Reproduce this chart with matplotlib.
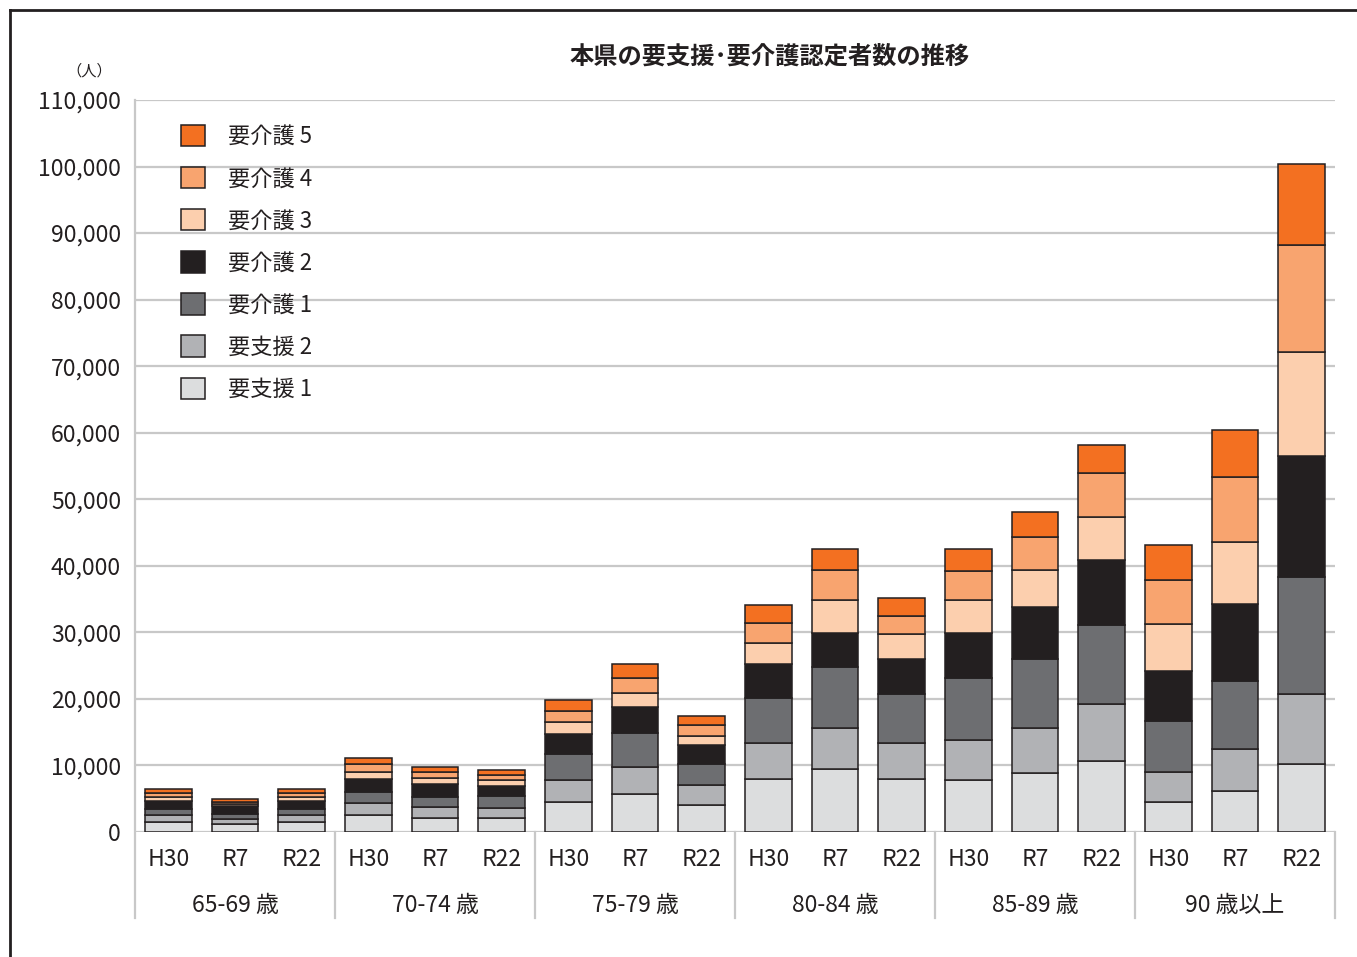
import matplotlib.pyplot as plt
import numpy as np
from matplotlib.lines import Line2D

plt.rcParams['font.family'] = ['Noto Sans CJK JP', 'DejaVu Sans']

groups = ["65-69 歳", "70-74 歳", "75-79 歳", "80-84 歳", "85-89 歳", "90 歳以上"]
years = ["H30", "R7", "R22"]

# values per bar, 18 bars (group x year)
shien1 = [1450, 1150, 1450, 2500, 2150, 2050, 4500, 5750, 4000, 7900, 9400, 7900, 7850, 8900, 10600, 4500, 6150, 10250]
shien2 = [1050, 800, 1050, 1900, 1550, 1500, 3250, 4050, 3100, 5400, 6300, 5400, 6050, 6800, 8700, 4500, 6350, 10550]
kaigo1 = [1000, 750, 1000, 1650, 1500, 1850, 3900, 5050, 3150, 6800, 9100, 7500, 9200, 10350, 11800, 7700, 10250, 17450]
kaigo2 = [1150, 1200, 1150, 1900, 2050, 1500, 3050, 3900, 2750, 5200, 5050, 5200, 6800, 7700, 9700, 7500, 11450, 18200]
kaigo3 = [650, 300, 650, 1100, 850, 850, 1800, 2200, 1500, 3050, 5000, 3750, 4950, 5650, 6500, 7050, 9450, 15650]
kaigo4 = [600, 300, 600, 1100, 850, 850, 1750, 2250, 1600, 3100, 4450, 2700, 4400, 4950, 6650, 6600, 9650, 16050]
kaigo5 = [550, 400, 550, 900, 750, 750, 1650, 2050, 1400, 2700, 3250, 2700, 3300, 3700, 4250, 5250, 7150, 12300]

series = [shien1, shien2, kaigo1, kaigo2, kaigo3, kaigo4, kaigo5]
labels = ["要支援 1", "要支援 2", "要介護 1", "要介護 2", "要介護 3", "要介護 4", "要介護 5"]
colors = ["#dcddde", "#b1b2b5", "#6d6e71", "#231f20", "#fccfae", "#f8a46f", "#f37021"]

fig = plt.figure(figsize=(13.57, 9.57), dpi=100)
ax = fig.add_axes([135/1357, 1-832/957, 1200/1357, 732/957])

x = np.arange(18)
bottom = np.zeros(18)
handles = []
for vals, lab, col in zip(series, labels, colors):
    b = ax.bar(x, vals, 0.7, bottom=bottom, color=col, edgecolor="#231f20", linewidth=1.1, label=lab, zorder=3)
    handles.append(b)
    bottom += np.array(vals)

ax.set_xlim(-0.5, 17.5)
ax.set_ylim(0, 110000)
ax.set_yticks(np.arange(0, 110001, 10000))
ax.set_yticklabels([f"{v:,}" for v in range(0, 110001, 10000)], fontsize=16.5, color="#231f20")
ax.yaxis.grid(True, color="#c8c8c8", linewidth=1.6, zorder=0)
ax.set_axisbelow(True)
ax.tick_params(axis="y", length=0, pad=10)
ax.tick_params(axis="x", length=0)
ax.set_xticks([])
for s in ["top", "right", "bottom", "left"]:
    ax.spines[s].set_visible(False)

# category axis
trans = ax.get_xaxis_transform()
for i in range(7):
    xs = i * 3 - 0.5
    ax.add_line(Line2D([xs, xs], [-86/732, 1 if i == 0 else 0], transform=trans,
                       color="#c8c8c8", linewidth=1.6, clip_on=False))
for i in range(18):
    ax.text(x[i], -28/732, years[i % 3], transform=trans, ha="center", va="center",
            fontsize=16.5, color="#231f20")
for g in range(6):
    ax.text(g * 3 + 1, -73/732, groups[g], transform=trans, ha="center", va="center",
            fontsize=16.5, color="#231f20")

ax.text(-0.038, 1.04, "（人）", transform=ax.transAxes, ha="center", va="center",
        fontsize=11, color="#231f20")

fig.text(770/1357, 1-57/957, "本県の要支援･要介護認定者数の推移", ha="center", va="center",
         fontsize=17.5, fontweight="bold", color="#231f20")

leg = ax.legend(handles[::-1], labels[::-1], loc="upper left", bbox_to_anchor=(172/1357, 1-116/957),
                bbox_transform=fig.transFigure, frameon=False, fontsize=16,
                handlelength=1.1, handleheight=1.1, handletextpad=1.0, labelspacing=0.85,
                borderaxespad=0)
for t in leg.get_texts():
    t.set_color("#231f20")

# outer frame
fig.add_artist(Line2D([10/1357, 10/1357], [0, 1-10/957], transform=fig.transFigure, color="#231f20", linewidth=2))
fig.add_artist(Line2D([10/1357, 1], [1-10/957, 1-10/957], transform=fig.transFigure, color="#231f20", linewidth=2))

fig.savefig("out.png", dpi=100)
